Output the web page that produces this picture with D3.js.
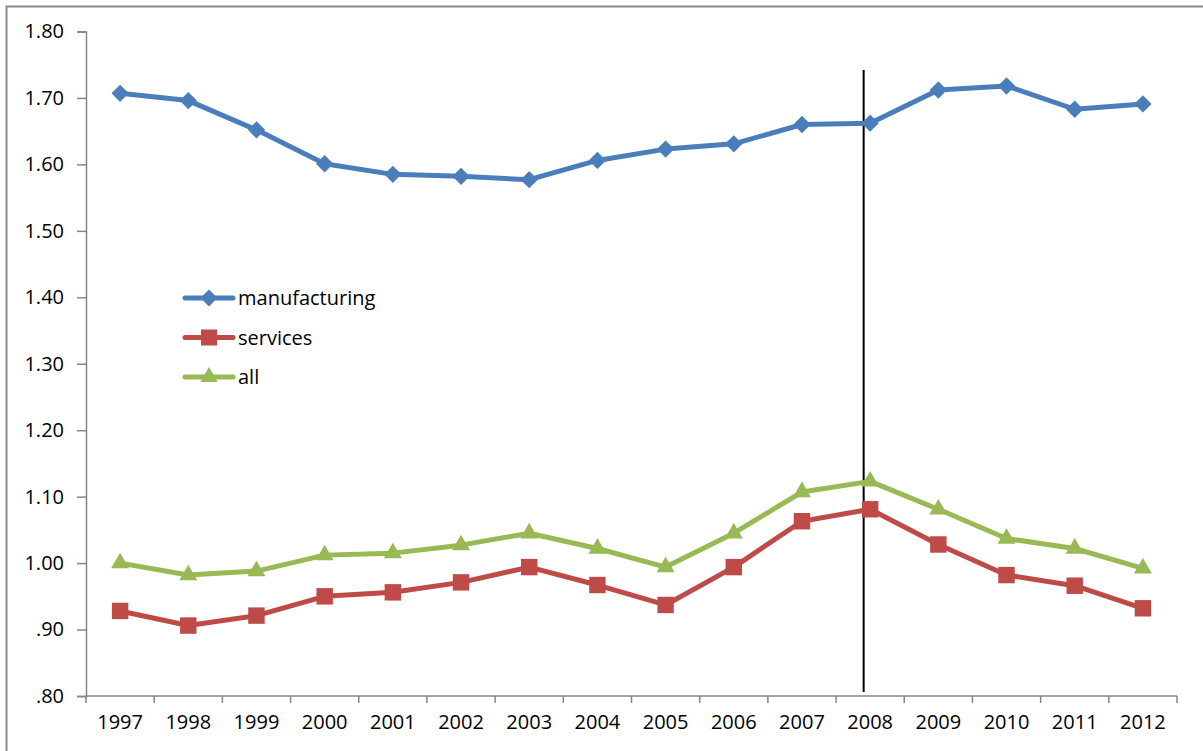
<!DOCTYPE html>
<html>
<head>
<meta charset="utf-8">
<script src="https://cdn.jsdelivr.net/npm/d3@7"></script>
<style>
  body { margin: 0; background: #fff; }
  svg { display: block; font-family: "Open Sans", Lato, sans-serif; }
</style>
</head>
<body>
<script>
const years = ["1997","1998","1999","2000","2001","2002","2003","2004","2005","2006","2007","2008","2009","2010","2011","2012"];
const manufacturing = [1.707,1.696,1.652,1.601,1.585,1.582,1.577,1.606,1.623,1.631,1.660,1.662,1.712,1.718,1.683,1.691];
const services = [0.928,0.906,0.921,0.950,0.956,0.971,0.994,0.967,0.937,0.994,1.063,1.081,1.028,0.982,0.966,0.932];
const all = [1.000,0.982,0.988,1.012,1.015,1.027,1.045,1.022,0.994,1.045,1.107,1.123,1.081,1.037,1.022,0.992];
const yTicks = [0.8,0.9,1.0,1.1,1.2,1.3,1.4,1.5,1.6,1.7,1.8];
const markerYear = "2008";

const width = 1203, height = 751;
const margin = {top: 31.5, right: 26, bottom: 55, left: 86};
const fontSize = 20;

// diamond = square turned 45 degrees
const series = [
  {name: "manufacturing", values: manufacturing, color: "#4a7ebb", symbol: d3.symbolSquare, size: 150, rotate: 45},
  {name: "services", values: services, color: "#be4b48", symbol: d3.symbolSquare, size: 270, rotate: 0},
  {name: "all", values: all, color: "#98b954", symbol: d3.symbolTriangle, size: 140, rotate: 0}
];

const svg = d3.select("body").append("svg")
    .attr("width", width)
    .attr("height", height);

// chart frame
svg.append("rect")
    .attr("x", 6.5).attr("y", 6.5)
    .attr("width", width + 10).attr("height", height + 10)
    .attr("fill", "none")
    .attr("stroke", "#8a8a8a")
    .attr("stroke-width", 2);

const x = d3.scaleBand()
    .domain(years)
    .range([margin.left, width - margin.right]);

const y = d3.scaleLinear()
    .domain([0.8, 1.8])
    .range([height - margin.bottom, margin.top]);

const fmt = v => d3.format(".2f")(v).replace(/^0/, "");

// y axis
svg.append("g")
    .attr("transform", `translate(${margin.left},0)`)
    .call(d3.axisLeft(y).tickValues(yTicks).tickFormat(fmt).tickSizeOuter(0).tickSize(9).tickPadding(13))
    .call(g => g.selectAll("path, line").attr("stroke", "#868686").attr("stroke-width", 1.5))
    .call(g => g.selectAll("text").attr("font-size", fontSize).attr("fill", "#000").attr("font-family", "'Open Sans', sans-serif"));

// x axis, ticks between categories
const xAxis = svg.append("g")
    .attr("transform", `translate(0,${y(0.8)})`);
xAxis.append("line")
    .attr("x1", x.range()[0]).attr("x2", x.range()[1])
    .attr("stroke", "#868686").attr("stroke-width", 1.5);
xAxis.selectAll(".tk")
  .data(years.concat(["end"]))
  .join("line")
    .attr("x1", (d, i) => i < years.length ? x(d) : x.range()[1])
    .attr("x2", (d, i) => i < years.length ? x(d) : x.range()[1])
    .attr("y1", 0).attr("y2", 7)
    .attr("stroke", "#868686").attr("stroke-width", 1.5);
xAxis.selectAll("text")
  .data(years)
  .join("text")
    .attr("x", d => x(d) + x.bandwidth() / 2)
    .attr("y", 33)
    .attr("text-anchor", "middle")
    .attr("font-size", fontSize)
    .text(d => d);

// 2008 marker line
svg.append("line")
    .attr("x1", x(markerYear) + x.bandwidth() / 2 - 6.5)
    .attr("x2", x(markerYear) + x.bandwidth() / 2 - 6.5)
    .attr("y1", 70).attr("y2", y(0.8) - 4)
    .attr("stroke", "#000").attr("stroke-width", 2);

const line = d3.line()
    .x((d, i) => x(years[i]) + x.bandwidth() / 2)
    .y(d => y(d));

for (const s of series) {
  svg.append("path")
      .datum(s.values)
      .attr("fill", "none")
      .attr("stroke", s.color)
      .attr("stroke-width", 5)
      .attr("stroke-linejoin", "round")
      .attr("d", line);
  svg.append("g").selectAll("path")
    .data(s.values)
    .join("path")
      .attr("transform", (d, i) => `translate(${x(years[i]) + x.bandwidth() / 2},${y(d)}) rotate(${s.rotate})`)
      .attr("d", d3.symbol(s.symbol, s.size))
      .attr("fill", s.color);
}

// legend
const legend = svg.append("g")
    .attr("transform", "translate(185,298)");
series.forEach((s, i) => {
  const g = legend.append("g").attr("transform", `translate(0,${i * 39.5})`);
  g.append("line")
      .attr("x1", 0).attr("x2", 48)
      .attr("stroke", s.color).attr("stroke-width", 5).attr("stroke-linecap", "round");
  g.append("path")
      .attr("transform", `translate(24,0) rotate(${s.rotate})`)
      .attr("d", d3.symbol(s.symbol, s.size * 0.95))
      .attr("fill", s.color);
  g.append("text")
      .attr("x", 53).attr("y", 7)
      .attr("font-size", fontSize)
      .text(s.name);
});
</script>
</body>
</html>
